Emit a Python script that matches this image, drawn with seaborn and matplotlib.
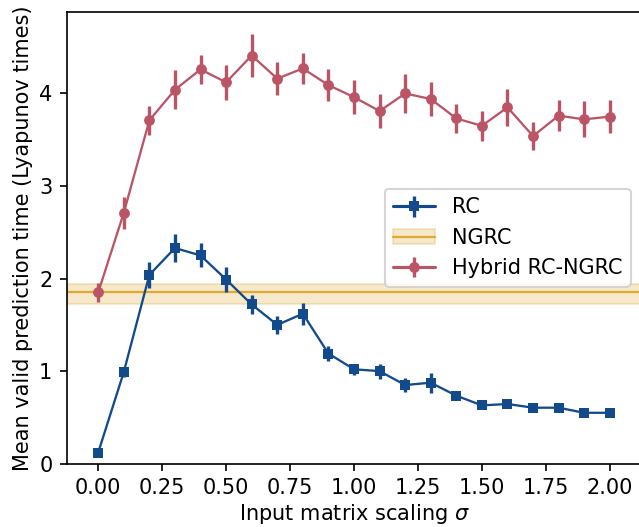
import numpy as np
import pandas as pd
import matplotlib
matplotlib.use("Agg")
import matplotlib.pyplot as plt
import seaborn as sns
from matplotlib.legend_handler import HandlerTuple

sigma = [0.0, 0.1, 0.2, 0.3, 0.4, 0.5, 0.6, 0.7, 0.8, 0.9, 1.0,
         1.1, 1.2, 1.3, 1.4, 1.5, 1.6, 1.7, 1.8, 1.9, 2.0]
rc_mean = [0.12, 0.99, 2.04, 2.33, 2.25, 1.99, 1.72, 1.50, 1.62, 1.19, 1.02,
           1.00, 0.85, 0.875, 0.735, 0.63, 0.645, 0.605, 0.605, 0.55, 0.55]
rc_err = [0.02, 0.05, 0.14, 0.15, 0.13, 0.13, 0.105, 0.10, 0.12, 0.08, 0.06,
          0.08, 0.08, 0.11, 0.03, 0.03, 0.03, 0.03, 0.03, 0.03, 0.03]
hyb_mean = [1.85, 2.71, 3.71, 4.04, 4.26, 4.12, 4.41, 4.16, 4.27, 4.09, 3.96,
            3.81, 4.00, 3.94, 3.73, 3.65, 3.85, 3.54, 3.76, 3.72, 3.75]
hyb_err = [0.105, 0.17, 0.157, 0.21, 0.16, 0.19, 0.23, 0.18, 0.17, 0.17, 0.18,
           0.18, 0.21, 0.18, 0.16, 0.16, 0.20, 0.155, 0.165, 0.195, 0.18]
ngrc_mean = 1.85
ngrc_low = 1.73
ngrc_high = 1.94

labels = ["RC", "NGRC", "Hybrid RC-NGRC"]
c_rc = "#124a8c"
c_ngrc = "#DDAA33"
c_hyb = "#BB5566"

sns.set_theme(style="ticks")
plt.rcParams["font.family"] = ["DejaVu Sans"]
for k in ["font.size", "axes.labelsize", "xtick.labelsize", "ytick.labelsize", "legend.fontsize"]:
    plt.rcParams[k] = 10
for k in ["text.color", "axes.labelcolor", "xtick.color", "ytick.color", "axes.edgecolor"]:
    plt.rcParams[k] = "black"
plt.rcParams["axes.linewidth"] = 0.8

df = pd.DataFrame({"sigma": sigma, "rc": rc_mean, "rc_err": rc_err,
                   "hyb": hyb_mean, "hyb_err": hyb_err})

fig = plt.figure(figsize=(639 / 150, 527 / 150), dpi=150)
ax = fig.add_axes([67 / 639, (527 - 463.7) / 527, (641 - 67) / 639, (463.7 - 12) / 527])

# RC
sns.lineplot(data=df, x="sigma", y="rc", ax=ax, color=c_rc, marker="s",
             markersize=5.2, markeredgewidth=0, linewidth=1.1, legend=False, zorder=3)
ax.errorbar(df["sigma"], df["rc"], yerr=df["rc_err"], fmt="none",
            ecolor=c_rc, elinewidth=1.6, zorder=3)

# NGRC
xlim = (-0.122, 2.122)
band = ax.fill_between([xlim[0], xlim[1]], [ngrc_low] * 2, [ngrc_high] * 2,
                       color=c_ngrc, alpha=0.25, linewidth=1.0, zorder=2)
ngrc_line = ax.axhline(ngrc_mean, color=c_ngrc, linewidth=1.1, zorder=2)

# Hybrid
sns.lineplot(data=df, x="sigma", y="hyb", ax=ax, color=c_hyb, marker="o",
             markersize=5.2, markeredgewidth=0, linewidth=1.1, legend=False, zorder=4)
ax.errorbar(df["sigma"], df["hyb"], yerr=df["hyb_err"], fmt="none",
            ecolor=c_hyb, elinewidth=1.6, zorder=4)

ax.set_xlim(*xlim)
ax.set_ylim(0, 4.88)
ax.set_xticks([0, 0.25, 0.5, 0.75, 1.0, 1.25, 1.5, 1.75, 2.0])
ax.set_xticklabels(["0.00", "0.25", "0.50", "0.75", "1.00", "1.25", "1.50", "1.75", "2.00"])
ax.set_yticks([0, 1, 2, 3, 4])
ax.set_xlabel(r"Input matrix scaling $\sigma$", labelpad=2)
ax.set_ylabel("Mean valid prediction time (Lyapunov times)", labelpad=3)
ax.tick_params(direction="out", length=3.5, width=0.8, color="black", pad=3.5)

h_rc = ax.errorbar([], [], yerr=[], color=c_rc, marker="s", markersize=5.2,
                   markeredgewidth=0, linewidth=1.5, elinewidth=1.6)
h_hyb = ax.errorbar([], [], yerr=[], color=c_hyb, marker="o", markersize=5.2,
                    markeredgewidth=0, linewidth=1.5, elinewidth=1.6)
ax.legend([h_rc, (band, ngrc_line), h_hyb], labels, loc="center right",
          handler_map={tuple: HandlerTuple(ndivide=1)}, framealpha=0.8)

fig.savefig("out.png", dpi=150)
